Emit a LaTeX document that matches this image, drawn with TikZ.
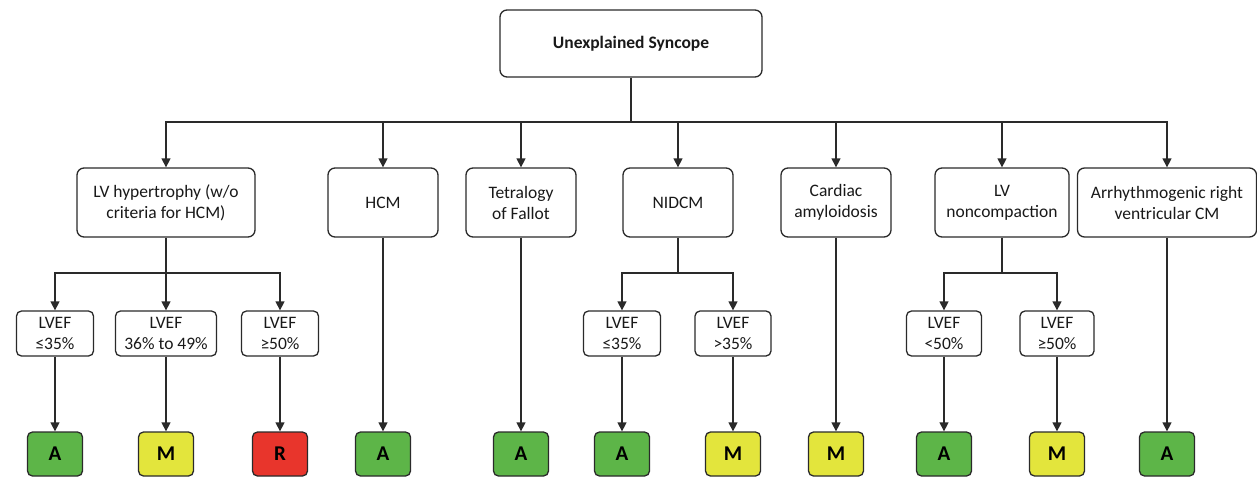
\documentclass[tikz,border=0pt]{standalone}
\usepackage{fontspec}
\setmainfont{Carlito}
\usetikzlibrary{arrows.meta}
\definecolor{lineC}{HTML}{2A2A2A}
\definecolor{greenA}{HTML}{5DB548}
\definecolor{yellowM}{HTML}{E3E53C}
\definecolor{redR}{HTML}{E8352C}
\tikzset{
  box/.style={draw=lineC, line width=1.3pt, rounded corners=7pt, fill=white, align=center, text=black!90, font=\fontsize{17.5}{21}\selectfont, inner sep=0pt},
  topbox/.style={box, minimum width=262pt, minimum height=67pt, font=\bfseries\fontsize{17.5}{21}\selectfont},
  midbox/.style={box, minimum height=69pt},
  efbox/.style={box, rounded corners=5pt, minimum height=45pt},
  res/.style={draw=lineC, line width=1.3pt, rounded corners=5pt, minimum width=55pt, minimum height=44pt, inner sep=0pt, font=\bfseries\fontsize{21}{24}\selectfont},
  resA/.style={res, fill=greenA},
  resM/.style={res, fill=yellowM},
  resR/.style={res, fill=redR},
  arr/.style={draw=lineC, line width=1.3pt, -{Triangle[width=9pt,length=9pt]}},
  ln/.style={draw=lineC, line width=1.3pt}
}
\begin{document}
\begin{tikzpicture}[x=1pt,y=-1pt]
\useasboundingbox (0,0) rectangle (1257,477);
% top
\node[topbox] (top) at (631,43.5) {Unexplained Syncope};
% row 2
\node[midbox, minimum width=178pt] (lvh) at (166,202.5) {LV hypertrophy (w/o\\criteria for HCM)};
\node[midbox, minimum width=110pt] (hcm) at (383,202.5) {HCM};
\node[midbox, minimum width=110pt] (tof) at (521,202.5) {Tetralogy\\of Fallot};
\node[midbox, minimum width=110pt] (nid) at (678,202.5) {NIDCM};
\node[midbox, minimum width=110pt] (ca) at (836,202.5) {Cardiac\\amyloidosis};
\node[midbox, minimum width=134pt] (lvnc) at (1002,202.5) {LV\\noncompaction};
\node[midbox, minimum width=179pt] (arvc) at (1167,202.5) {Arrhythmogenic right\\ventricular CM};
% row 3
\node[efbox, minimum width=77pt] (e1) at (55,333.5) {LVEF\\≤35\%};
\node[efbox, minimum width=101pt] (e2) at (166,333.5) {LVEF\\36\% to 49\%};
\node[efbox, minimum width=77pt] (e3) at (280,333.5) {LVEF\\≥50\%};
\node[efbox, minimum width=77pt] (e4) at (622,333.5) {LVEF\\≤35\%};
\node[efbox, minimum width=76pt] (e5) at (733,333.5) {LVEF\\>35\%};
\node[efbox, minimum width=75pt] (e6) at (944,333.5) {LVEF\\<50\%};
\node[efbox, minimum width=74pt] (e7) at (1057,333.5) {LVEF\\≥50\%};
% row 4
\node[resA] (r1) at (55,454) {A};
\node[resM] (r2) at (166,454) {M};
\node[resR] (r3) at (280,454) {R};
\node[resA] (r4) at (383,454) {A};
\node[resA] (r5) at (521,454) {A};
\node[resA] (r6) at (622,454) {A};
\node[resM] (r7) at (733,454) {M};
\node[resM] (r8) at (836,454) {M};
\node[resA] (r9) at (944,454) {A};
\node[resM] (r10) at (1057,454) {M};
\node[resA] (r11) at (1167,454) {A};
% top bus
\coordinate (bus) at (631,122);
\draw[ln] (top.south) -- (bus);
\foreach \n in {lvh,hcm,tof,nid,ca,lvnc,arvc} \draw[arr] (bus) -| (\n.north);
% LVH branch
\coordinate (b1) at (166,273);
\draw[ln] (lvh.south) -- (b1);
\foreach \n in {e1,e2,e3} \draw[arr] (b1) -| (\n.north);
% NIDCM branch
\coordinate (b2) at (678,273);
\draw[ln] (nid.south) -- (b2);
\foreach \n in {e4,e5} \draw[arr] (b2) -| (\n.north);
% LVNC branch
\coordinate (b3) at (1002,273);
\draw[ln] (lvnc.south) -- (b3);
\foreach \n in {e6,e7} \draw[arr] (b3) -| (\n.north);
% to results
\draw[arr] (e1.south) -- (r1.north);
\draw[arr] (e2.south) -- (r2.north);
\draw[arr] (e3.south) -- (r3.north);
\draw[arr] (hcm.south) -- (r4.north);
\draw[arr] (tof.south) -- (r5.north);
\draw[arr] (e4.south) -- (r6.north);
\draw[arr] (e5.south) -- (r7.north);
\draw[arr] (ca.south) -- (r8.north);
\draw[arr] (e6.south) -- (r9.north);
\draw[arr] (e7.south) -- (r10.north);
\draw[arr] (arvc.south) -- (r11.north);
\end{tikzpicture}
\end{document}
